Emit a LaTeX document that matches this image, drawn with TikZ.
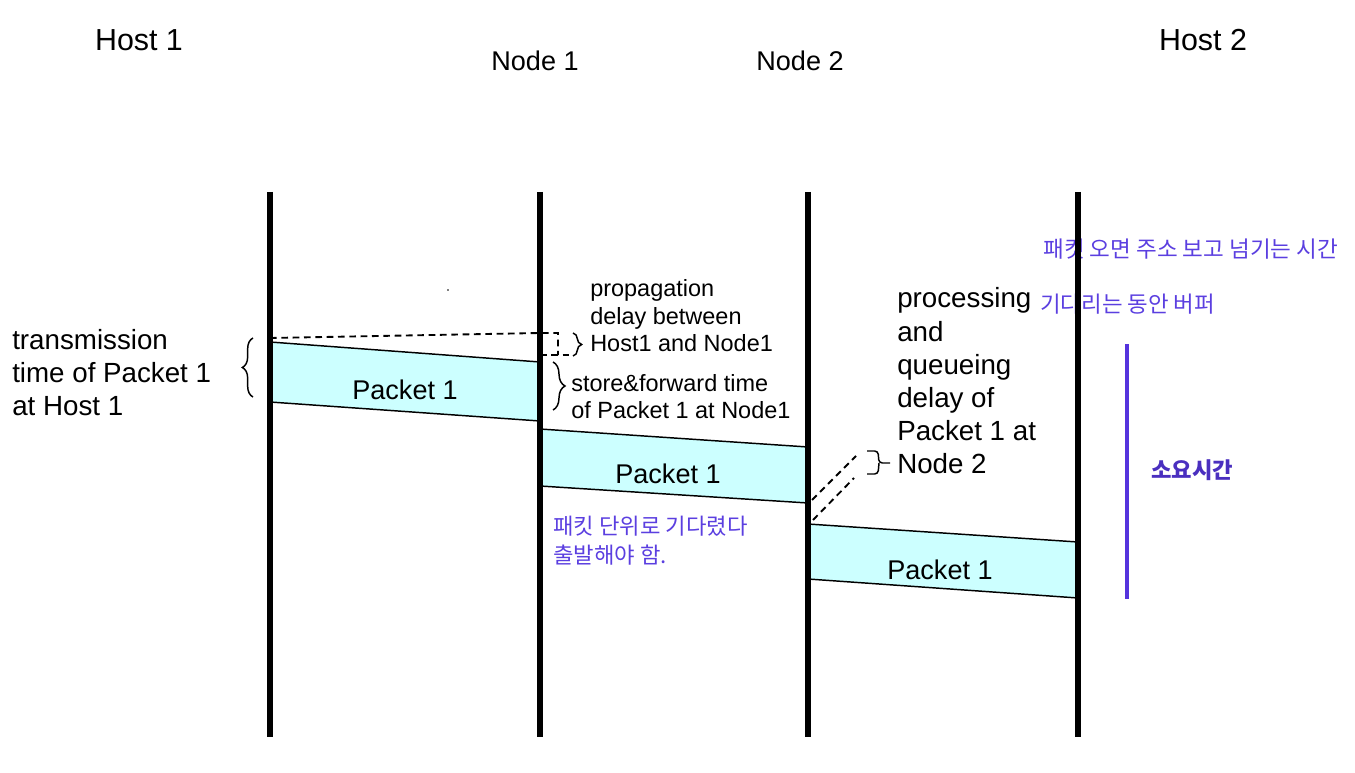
\documentclass[tikz,border=0pt]{standalone}
\usepackage{fontspec}
\setmainfont{Liberation Sans}
\newfontfamily\kofont{Noto Sans CJK KR}
\usepackage{xcolor}
\usetikzlibrary{decorations.pathreplacing}
\definecolor{pktcyan}{HTML}{CCFFFF}
\definecolor{notepurple}{HTML}{5B3FE0}
\definecolor{spanpurple}{HTML}{5533DD}
\definecolor{boldpurple}{HTML}{4A2FBF}

\begin{document}
\begin{tikzpicture}[x=0.75pt,y=-0.75pt,
  lifeline/.style={line width=3.8pt},
  pktedge/.style={line width=1.1pt},
  txt/.style={inner sep=0pt,align=left},
  pktlabel/.style={inner sep=0pt,font=\fontsize{20.3}{24}\selectfont},
  konote/.style={inner sep=0pt,align=left,anchor=west,text=notepurple},
  guide/.style={line width=1.4pt,dash pattern=on 5pt off 3.5pt},
  bracefig/.style={decorate,decoration={brace,amplitude=#1},line width=1.1pt}]
\useasboundingbox (0,0) rectangle (1355,773);

% Titles
\node[inner sep=0pt,font=\fontsize{22.8}{26}\selectfont] (host1) at (139,40) {Host 1};
\node[inner sep=0pt,font=\fontsize{20.3}{24}\selectfont] (node1) at (535,61) {Node 1};
\node[inner sep=0pt,font=\fontsize{20.3}{24}\selectfont] (node2) at (800,61) {Node 2};
\node[inner sep=0pt,font=\fontsize{22.8}{26}\selectfont] (host2) at (1203,40) {Host 2};

% Lifeline ends
\coordinate (h1t) at (270,192); \coordinate (h1b) at (270,737);
\coordinate (n1t) at (540,192); \coordinate (n1b) at (540,737);
\coordinate (n2t) at (808,192); \coordinate (n2b) at (808,737);
\coordinate (h2t) at (1078,192); \coordinate (h2b) at (1078,737);

% Packets
\fill[pktcyan] (270,342) -- (540,362) -- (540,421) -- (270,402) -- cycle;
\draw[pktedge] (270,342) -- (540,362) (270,402) -- (540,421);
\fill[pktcyan] (540,429) -- (808,447) -- (808,503) -- (540,486) -- cycle;
\draw[pktedge] (540,429) -- (808,447) (540,486) -- (808,503);
\fill[pktcyan] (808,524) -- (1078,542) -- (1078,598) -- (808,579) -- cycle;
\draw[pktedge] (808,524) -- (1078,542) (808,579) -- (1078,598);
\node[pktlabel] (pkt1a) at (405,390) {Packet 1};
\node[pktlabel] (pkt1b) at (668,474) {Packet 1};
\node[pktlabel] (pkt1c) at (940,570) {Packet 1};

% Propagation marks
\draw[guide] (270,338) -- (540,333) -- (558,333) -- (558,355);
\draw[guide] (540,355) -- (570,355);
\draw[guide] (812,500) -- (856,456);
\draw[guide] (813,520) -- (854,478);
\fill (448,290) circle (0.8);

% Braces
\draw[bracefig=8pt] (253,397) -- (253,338);
\draw[bracefig=6.5pt] (573,333) -- (573,356);
\draw[bracefig=9pt] (553,362) -- (553,410);
\draw[line width=1.1pt,rounded corners=2.5pt] (867,451) -- (878,451) -- (879,463) -- (890,463);
\draw[line width=1.1pt,rounded corners=2.5pt] (879,463) -- (878,474) -- (867,474);

% Black notes
\node[txt,anchor=west,font=\fontsize{20.8}{24.75}\selectfont] (txlabel) at (12,373)
  {transmission\\time of Packet 1\\at Host 1};
\node[txt,anchor=west,font=\fontsize{17.6}{20.6}\selectfont] (proplabel) at (590,316)
  {propagation\\delay between\\Host1 and Node1};
\node[txt,anchor=west,font=\fontsize{17.6}{20.3}\selectfont] (sflabel) at (571,397)
  {store\&forward time\\of Packet 1 at Node1};
\node[txt,anchor=west,font=\fontsize{20.8}{24.9}\selectfont] (proclabel) at (897,381)
  {processing\\and\\queueing\\delay of\\Packet 1 at\\Node 2};

% Purple notes
\node[konote,font=\kofont\fontsize{16.9}{19}\selectfont] (fwdnote) at (1043,249) {패킷 오면 주소 보고 넘기는 시간};
\node[konote,font=\kofont\fontsize{16.8}{19}\selectfont] (bufnote) at (1040,304) {기다리는 동안 버퍼};
\node[konote,font=\kofont\fontsize{16.7}{21.75}\selectfont] (waitnote) at (553,541) {패킷 단위로 기다렸다\\출발해야 함.};
\coordinate (spant) at (1127,344); \coordinate (spanb) at (1127,599);
\draw[spanpurple,line width=2.3pt] (spant) -- (spanb);
\node[inner sep=0pt,text=boldpurple,font=\kofont\bfseries\fontsize{16.7}{19}\selectfont] (spanlabel) at (1192,470) {소요시간};

% Lifelines
\draw[lifeline] (h1t) -- (h1b);
\draw[lifeline] (n1t) -- (n1b);
\draw[lifeline] (n2t) -- (n2b);
\draw[lifeline] (h2t) -- (h2b);

\end{tikzpicture}
\end{document}
